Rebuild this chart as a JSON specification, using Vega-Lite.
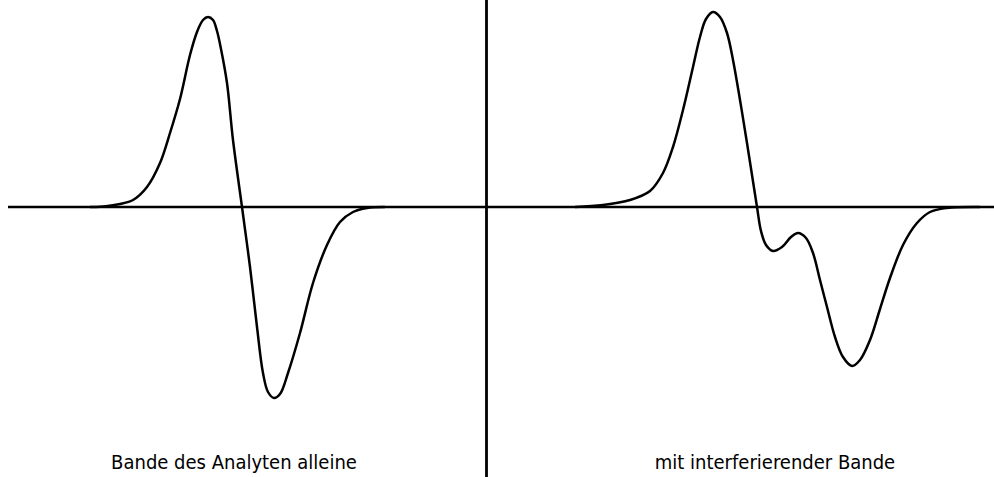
{
  "$schema": "https://vega.github.io/schema/vega-lite/v6.json",
  "width": 994,
  "height": 477,
  "autosize": {"type": "none"},
  "padding": 0,
  "background": "white",
  "config": {"view": {"stroke": null}},
  "datasets": {
    "curves": [
      {"panel": "allein", "x": 90, "y": 0},
      {"panel": "allein", "x": 100, "y": 0.3},
      {"panel": "allein", "x": 120, "y": 3},
      {"panel": "allein", "x": 133, "y": 7},
      {"panel": "allein", "x": 147, "y": 20},
      {"panel": "allein", "x": 160, "y": 44},
      {"panel": "allein", "x": 170, "y": 74},
      {"panel": "allein", "x": 180, "y": 108},
      {"panel": "allein", "x": 190, "y": 152},
      {"panel": "allein", "x": 197, "y": 175},
      {"panel": "allein", "x": 203, "y": 187},
      {"panel": "allein", "x": 208, "y": 190},
      {"panel": "allein", "x": 213, "y": 187},
      {"panel": "allein", "x": 217, "y": 176},
      {"panel": "allein", "x": 221, "y": 158},
      {"panel": "allein", "x": 227, "y": 124},
      {"panel": "allein", "x": 233, "y": 67},
      {"panel": "allein", "x": 242, "y": 0},
      {"panel": "allein", "x": 250, "y": -60},
      {"panel": "allein", "x": 257, "y": -120},
      {"panel": "allein", "x": 263, "y": -166},
      {"panel": "allein", "x": 268, "y": -185},
      {"panel": "allein", "x": 274, "y": -191},
      {"panel": "allein", "x": 280, "y": -187},
      {"panel": "allein", "x": 288, "y": -166},
      {"panel": "allein", "x": 300, "y": -126},
      {"panel": "allein", "x": 313, "y": -76},
      {"panel": "allein", "x": 327, "y": -38},
      {"panel": "allein", "x": 340, "y": -15},
      {"panel": "allein", "x": 353, "y": -5},
      {"panel": "allein", "x": 367, "y": -1},
      {"panel": "allein", "x": 385, "y": 0},
      {"panel": "interferiert", "x": 575, "y": 0},
      {"panel": "interferiert", "x": 603, "y": 2},
      {"panel": "interferiert", "x": 630, "y": 7},
      {"panel": "interferiert", "x": 650, "y": 16},
      {"panel": "interferiert", "x": 663, "y": 34},
      {"panel": "interferiert", "x": 673, "y": 60},
      {"panel": "interferiert", "x": 683, "y": 97},
      {"panel": "interferiert", "x": 693, "y": 140},
      {"panel": "interferiert", "x": 700, "y": 170},
      {"panel": "interferiert", "x": 706, "y": 188},
      {"panel": "interferiert", "x": 713, "y": 195},
      {"panel": "interferiert", "x": 720, "y": 190},
      {"panel": "interferiert", "x": 727, "y": 174},
      {"panel": "interferiert", "x": 733, "y": 147},
      {"panel": "interferiert", "x": 740, "y": 107},
      {"panel": "interferiert", "x": 747, "y": 64},
      {"panel": "interferiert", "x": 757, "y": 0},
      {"panel": "interferiert", "x": 761, "y": -24},
      {"panel": "interferiert", "x": 766, "y": -38},
      {"panel": "interferiert", "x": 773, "y": -44},
      {"panel": "interferiert", "x": 782, "y": -40},
      {"panel": "interferiert", "x": 791, "y": -30},
      {"panel": "interferiert", "x": 798, "y": -26},
      {"panel": "interferiert", "x": 806, "y": -31},
      {"panel": "interferiert", "x": 813, "y": -46},
      {"panel": "interferiert", "x": 820, "y": -73},
      {"panel": "interferiert", "x": 827, "y": -100},
      {"panel": "interferiert", "x": 835, "y": -130},
      {"panel": "interferiert", "x": 843, "y": -150},
      {"panel": "interferiert", "x": 852, "y": -159},
      {"panel": "interferiert", "x": 860, "y": -153},
      {"panel": "interferiert", "x": 870, "y": -133},
      {"panel": "interferiert", "x": 880, "y": -102},
      {"panel": "interferiert", "x": 890, "y": -71},
      {"panel": "interferiert", "x": 903, "y": -38},
      {"panel": "interferiert", "x": 917, "y": -16},
      {"panel": "interferiert", "x": 930, "y": -5},
      {"panel": "interferiert", "x": 947, "y": -1},
      {"panel": "interferiert", "x": 980, "y": 0}
    ],
    "labels": [
      {"label": "Bande des Analyten alleine", "x": 234, "y": -262},
      {"label": "mit interferierender Bande", "x": 775, "y": -262}
    ],
    "baseline": [{"x": 8, "x2": 1000, "y": 0}],
    "divider": [{"x": 486.5, "y": -280, "y2": 217}]
  },
  "resolve": {"scale": {"x": "shared", "y": "shared"}},
  "layer": [
    {
      "data": {"name": "baseline"},
      "mark": {"type": "rule", "stroke": "black", "strokeWidth": 2.5},
      "encoding": {
        "x": {"field": "x", "type": "quantitative", "scale": {"domain": [0, 994], "nice": false, "zero": false}, "axis": null},
        "x2": {"field": "x2"},
        "y": {"field": "y", "type": "quantitative", "scale": {"domain": [-270, 207], "nice": false, "zero": false}, "axis": null}
      }
    },
    {
      "data": {"name": "divider"},
      "mark": {"type": "rule", "stroke": "black", "strokeWidth": 2.8},
      "encoding": {
        "x": {"field": "x", "type": "quantitative"},
        "y": {"field": "y", "type": "quantitative"},
        "y2": {"field": "y2"}
      }
    },
    {
      "data": {"name": "curves"},
      "mark": {"type": "line", "stroke": "black", "strokeWidth": 2.5, "interpolate": "catmull-rom"},
      "encoding": {
        "x": {"field": "x", "type": "quantitative"},
        "y": {"field": "y", "type": "quantitative"},
        "detail": {"field": "panel"}
      }
    },
    {
      "data": {"name": "labels"},
      "mark": {"type": "text", "font": "DejaVu Sans Condensed, Liberation Sans, Arial, sans-serif", "fontSize": 20, "align": "center", "baseline": "alphabetic", "color": "black"},
      "encoding": {
        "x": {"field": "x", "type": "quantitative"},
        "y": {"field": "y", "type": "quantitative"},
        "text": {"field": "label"}
      }
    }
  ]
}
